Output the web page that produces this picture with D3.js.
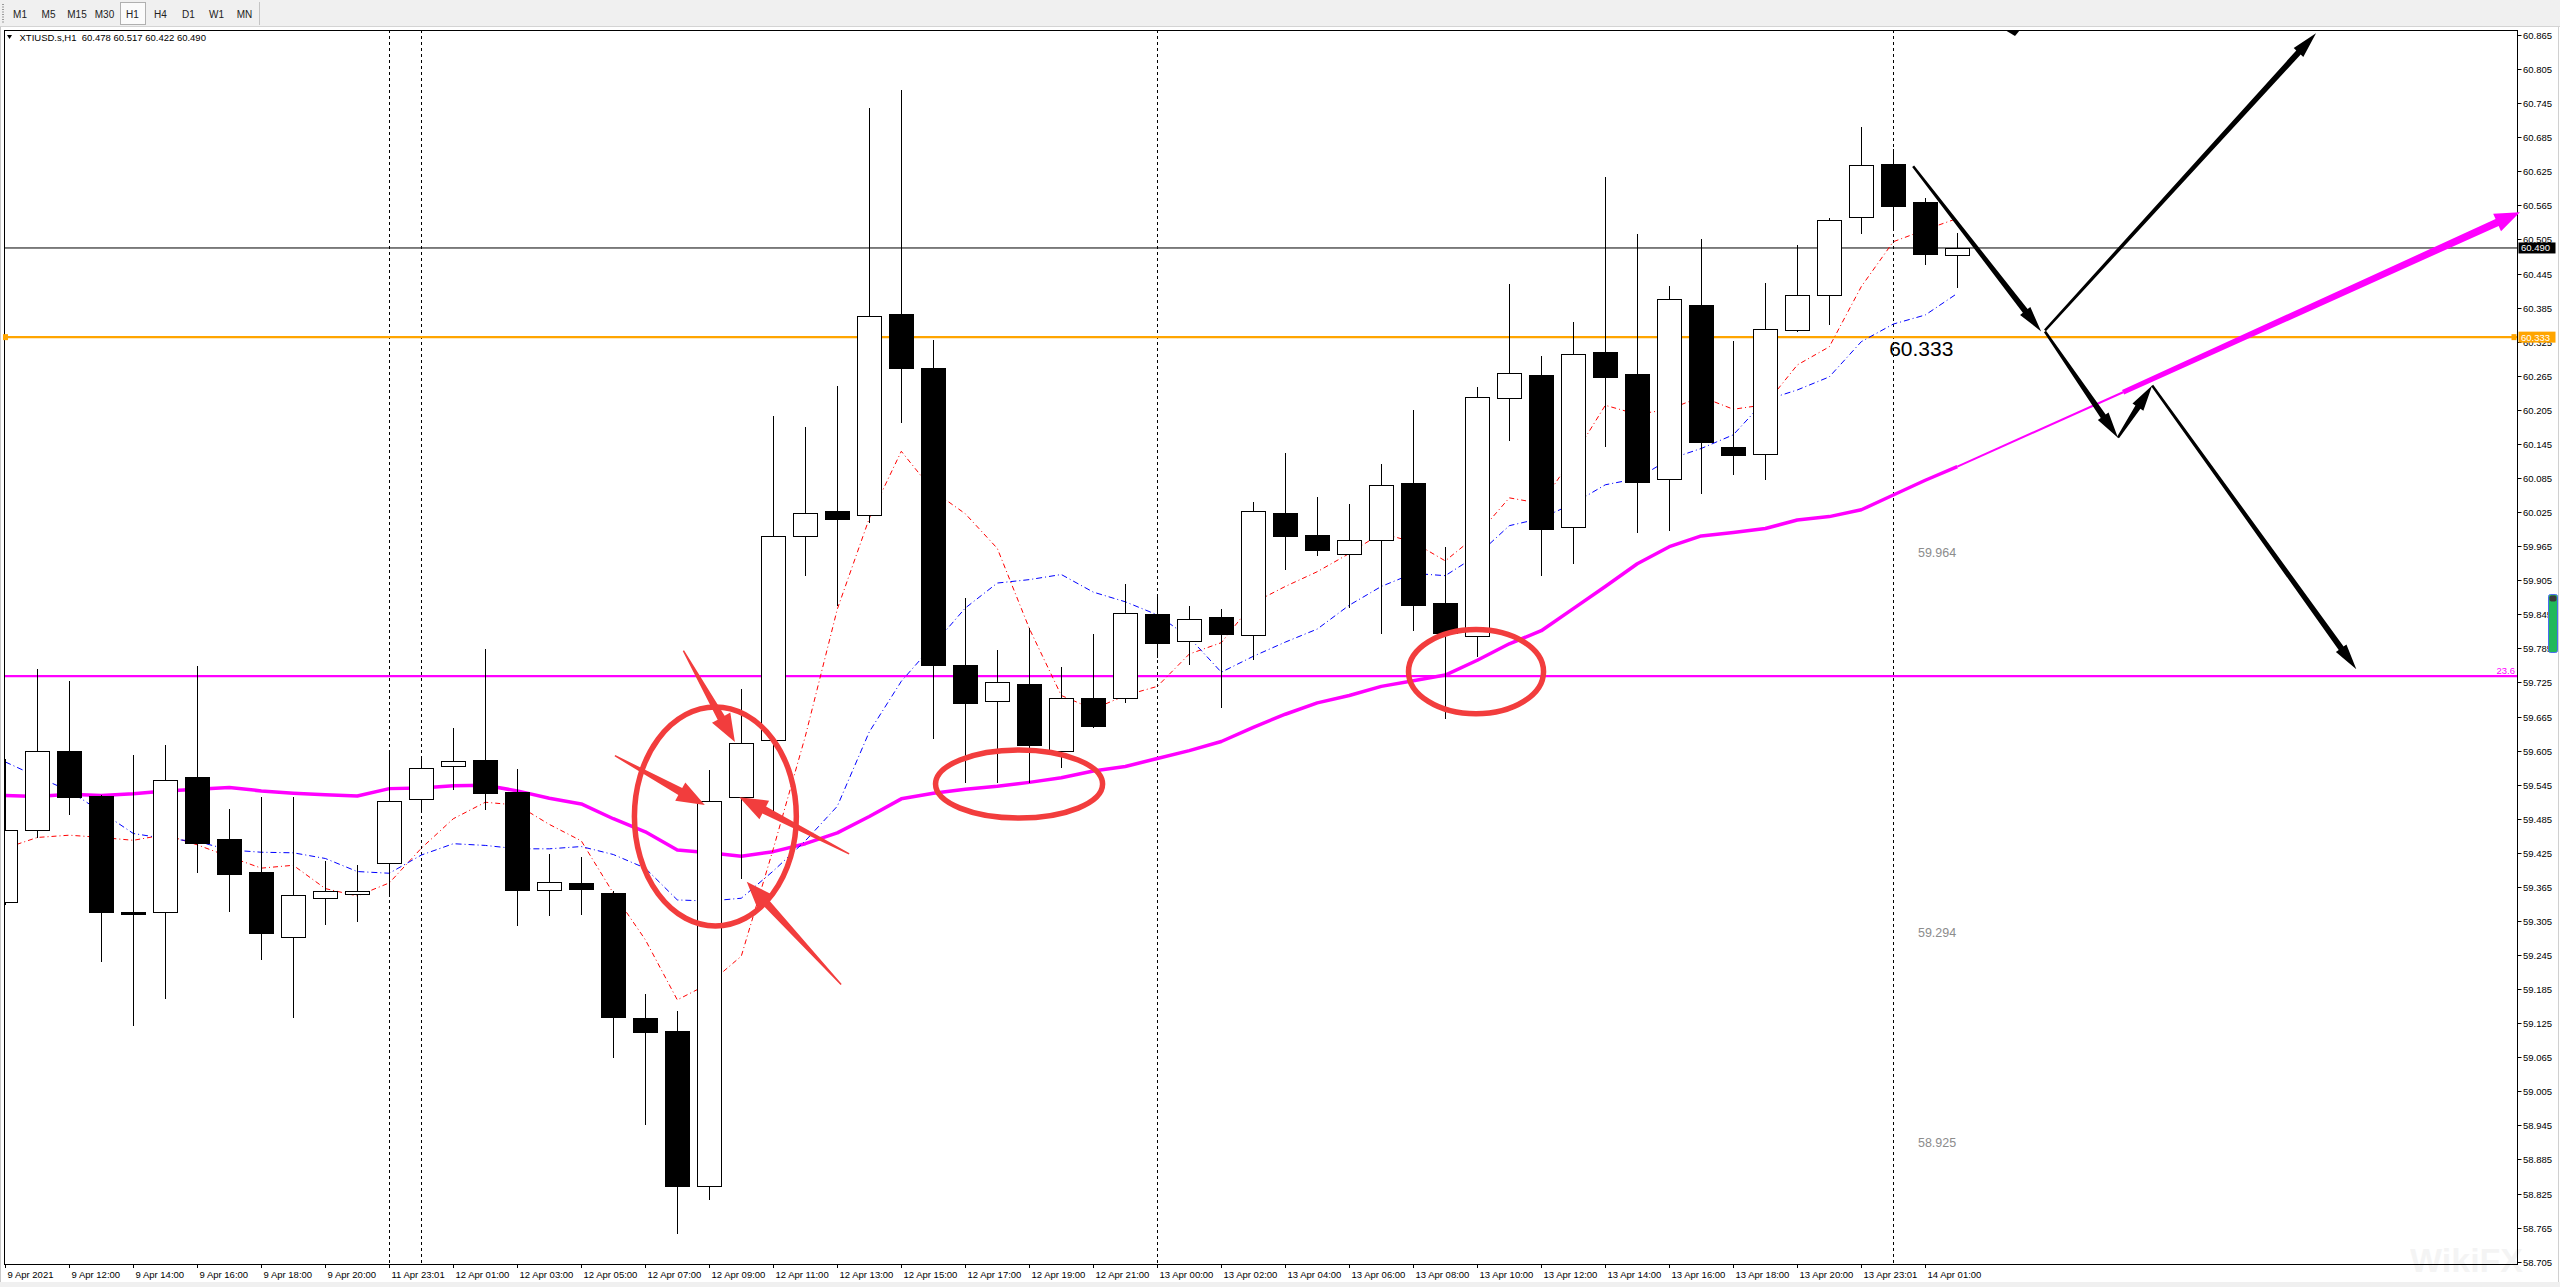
<!DOCTYPE html>
<html><head><meta charset="utf-8">
<script src="https://cdn.jsdelivr.net/npm/d3@7"></script>
<style>
body{margin:0;background:#fff;overflow:hidden}
svg{display:block}
text{font-family:"Liberation Sans",Arial,sans-serif}
</style></head>
<body><svg id="c" width="2560" height="1287"></svg>
<script>
// ---------------- DATA ----------------
const symbolHeader = "XTIUSD.s,H1  60.478 60.517 60.422 60.490";
const timeframes = ["M1","M5","M15","M30","H1","H4","D1","W1","MN"];
const opens  = [59.338,59.465,59.605,59.525,59.320,59.320,59.558,59.449,59.391,59.277,59.346,59.353,59.407,59.519,59.577,59.588,59.532,59.359,59.372,59.355,59.134,59.111,58.839,59.523,59.624,59.983,60.026,60.019,60.373,60.279,59.756,59.692,59.723,59.605,59.698,59.697,59.845,59.798,59.840,59.808,60.023,59.984,59.952,59.975,60.076,59.864,59.806,60.225,60.266,59.998,60.306,60.268,60.083,60.390,60.139,60.127,60.345,60.407,60.544,60.638,60.571,60.478];
const highs  = [59.590,59.749,59.727,59.527,59.597,59.615,59.754,59.502,59.523,59.524,59.411,59.403,59.606,59.595,59.645,59.784,59.573,59.423,59.417,59.358,59.177,59.147,59.570,59.713,60.195,60.175,60.247,60.736,60.768,60.328,59.874,59.782,59.820,59.753,59.811,59.898,59.880,59.859,59.855,60.043,60.129,60.051,60.039,60.109,60.205,59.963,60.245,60.427,60.300,60.360,60.615,60.515,60.423,60.506,60.326,60.428,60.496,60.542,60.703,60.664,60.578,60.517];
const lows   = [59.335,59.452,59.494,59.235,59.122,59.170,59.392,59.323,59.238,59.135,59.300,59.305,59.355,59.496,59.538,59.503,59.297,59.315,59.318,59.065,58.947,58.755,58.816,59.380,59.501,59.914,59.862,60.007,60.183,59.628,59.550,59.549,59.549,59.576,59.647,59.690,59.770,59.758,59.681,59.767,59.925,59.950,59.858,59.812,59.818,59.663,59.771,60.152,59.915,59.935,60.141,59.989,59.994,60.059,60.092,60.084,60.343,60.357,60.517,60.522,60.461,60.422];
const closes = [59.466,59.605,59.524,59.321,59.318,59.554,59.442,59.388,59.283,59.350,59.357,59.357,59.517,59.574,59.586,59.531,59.360,59.374,59.362,59.135,59.110,58.839,59.517,59.619,59.983,60.024,60.012,60.371,60.279,59.755,59.688,59.725,59.614,59.698,59.649,59.847,59.794,59.836,59.810,60.026,59.983,59.959,59.975,60.072,59.862,59.812,60.227,60.269,59.995,60.304,60.263,60.078,60.401,60.149,60.125,60.347,60.408,60.540,60.636,60.564,60.480,60.490];
// moving averages
const maSlow = [59.526,59.524,59.528,59.526,59.529,59.534,59.537,59.540,59.534,59.530,59.527,59.525,59.538,59.539,59.543,59.544,59.534,59.521,59.511,59.485,59.462,59.430,59.425,59.419,59.427,59.441,59.460,59.489,59.520,59.530,59.537,59.542,59.549,59.557,59.569,59.577,59.591,59.605,59.621,59.646,59.669,59.689,59.702,59.718,59.728,59.738,59.764,59.793,59.816,59.855,59.894,59.934,59.964,59.983,59.989,59.996,60.011,60.017,60.029,60.055,60.081,60.105];
const maFast = [59.433,59.452,59.456,59.452,59.447,59.457,59.439,59.418,59.398,59.403,59.362,59.349,59.372,59.433,59.485,59.514,59.509,59.475,59.446,59.354,59.272,59.166,59.195,59.243,59.432,59.630,59.854,60.014,60.132,60.062,60.022,59.961,59.820,59.702,59.678,59.702,59.718,59.775,59.795,59.865,59.894,59.920,59.952,59.988,59.972,59.939,59.985,60.050,60.040,60.122,60.213,60.197,60.206,60.228,60.206,60.214,60.284,60.316,60.422,60.501,60.522,60.542];
const maMid  = [59.585,59.559,59.534,59.497,59.459,59.450,59.445,59.430,59.426,59.425,59.415,59.392,59.389,59.421,59.441,59.438,59.432,59.432,59.436,59.422,59.398,59.342,59.340,59.345,59.393,59.446,59.507,59.638,59.727,59.791,59.856,59.900,59.906,59.915,59.884,59.867,59.844,59.804,59.743,59.771,59.796,59.819,59.861,59.894,59.917,59.913,59.949,60.001,60.014,60.040,60.073,60.084,60.118,60.137,60.161,60.222,60.240,60.263,60.325,60.356,60.372,60.410];
// axes
const priceTickLabels = ["60.865","60.805","60.745","60.685","60.625","60.565","60.505","60.445","60.385","60.325","60.265","60.205","60.145","60.085","60.025","59.965","59.905","59.845","59.785","59.725","59.665","59.605","59.545","59.485","59.425","59.365","59.305","59.245","59.185","59.125","59.065","59.005","58.945","58.885","58.825","58.765","58.705"];
const timeTickIndex = [0,2,4,6,8,10,12,14,16,18,20,22,24,26,28,30,32,34,36,38,40,42,44,46,48,50,52,54,56,58,60];
const timeTickLabels = ["9 Apr 2021","9 Apr 12:00","9 Apr 14:00","9 Apr 16:00","9 Apr 18:00","9 Apr 20:00","11 Apr 23:01","12 Apr 01:00","12 Apr 03:00","12 Apr 05:00","12 Apr 07:00","12 Apr 09:00","12 Apr 11:00","12 Apr 13:00","12 Apr 15:00","12 Apr 17:00","12 Apr 19:00","12 Apr 21:00","13 Apr 00:00","13 Apr 02:00","13 Apr 04:00","13 Apr 06:00","13 Apr 08:00","13 Apr 10:00","13 Apr 12:00","13 Apr 14:00","13 Apr 16:00","13 Apr 18:00","13 Apr 20:00","13 Apr 23:01","14 Apr 01:00"];
const separatorIndex = [12,13,36,59];
// levels
const bidPrice = 60.490;
const orangeLevel = 60.333;
const fibLevel = 59.736, fibLevelLabel = "23.6";
const fibTextPrices = [59.964, 59.294, 58.925];
const fibTextLabels = ["59.964","59.294","58.925"];
// annotations in (bar index, price)
const redEllipses = [[22.19,59.489,2.53,0.1928],[31.68,59.546,2.61,0.0599],[45.96,59.744,2.11,0.074]];
const redArrows = [[21.19,59.781,22.80,59.620],[19.05,59.596,21.86,59.509],[26.37,59.423,22.94,59.523],[26.12,59.193,23.17,59.374]];
const blackArrows = [[59.62,60.634,63.62,60.343],[63.74,60.345,72.21,60.868],[63.74,60.343,66.02,60.156],[66.02,60.156,67.09,60.248],[67.09,60.248,73.47,59.748]];
const magentaArrowThin = [61,60.105,66.18,60.236];
const magentaArrowThick = [66.18,60.236,78.58,60.553];
const levelText = "60.333", levelTextPos = [58.87, 60.333];

// ---------------- DRAW ----------------
const svg = d3.select('#c');
const P = {l:4, t:30, r:2517, b:1264};
const x = d3.scaleLinear().domain([0,61]).range([5.3, 5.3+32*61]);
const y = d3.scaleLinear().domain([58.705,60.865]).range([1261.7,35]);
const px = v => Math.round(v)+0.5;

svg.append('rect').attr('width',2560).attr('height',1287).attr('fill','#fff');
// toolbar
svg.append('rect').attr('x',0).attr('y',0).attr('width',2560).attr('height',26).attr('fill','#f0f0f0');
svg.append('line').attr('x1',0).attr('x2',2560).attr('y1',26.5).attr('y2',26.5).attr('stroke','#d4d4d4');
for(let k=0;k<8;k++) svg.append('rect').attr('x',2).attr('y',4+k*2.5).attr('width',2).attr('height',1).attr('fill','#9a9a9a');
const tfX = [20,48.5,77,104.5,132.5,160.5,188.5,216.5,244.5];
svg.append('rect').attr('x',120.5).attr('y',2.5).attr('width',25).attr('height',22).attr('fill','#fbfbfb').attr('stroke','#b0b0b0');
svg.append('line').attr('x1',259.5).attr('x2',259.5).attr('y1',2).attr('y2',25).attr('stroke','#c4c4c4');
svg.selectAll('text.tf').data(timeframes).join('text').attr('class','tf')
  .attr('x',(d,i)=>tfX[i]).attr('y',17.5).attr('text-anchor','middle')
  .attr('font-size',10).attr('fill','#222').text(d=>d);
// bottom strip and side strips
svg.append('rect').attr('x',0).attr('y',1282).attr('width',2560).attr('height',5).attr('fill','#f0f0f0');
svg.append('line').attr('x1',0.5).attr('x2',0.5).attr('y1',27).attr('y2',1282).attr('stroke','#c8c8c8');
svg.append('line').attr('x1',2558.5).attr('x2',2558.5).attr('y1',27).attr('y2',1282).attr('stroke','#d0d0d0');

// clip
svg.append('clipPath').attr('id','pc').append('rect')
  .attr('x',P.l+0.5).attr('y',P.t+0.5).attr('width',P.r-P.l-0.5).attr('height',P.b-P.t-0.5);
const g = svg.append('g').attr('clip-path','url(#pc)');

// separators
g.selectAll('line.sep').data(separatorIndex).join('line').attr('class','sep')
  .attr('x1',d=>px(x(d))).attr('x2',d=>px(x(d))).attr('y1',P.t).attr('y2',P.b)
  .attr('stroke','#000').attr('stroke-dasharray','3,3');

// horizontal levels
const hline = (p,c,w)=>g.append('line').attr('x1',P.l).attr('x2',P.r)
  .attr('y1',y(p)).attr('y2',y(p)).attr('stroke',c).attr('stroke-width',w);
hline(fibLevel,'#ff00ff',2.2);
hline(orangeLevel,'#ffa500',2.4);
hline(bidPrice,'#000',1);

// moving averages
const lineGen = d3.line().x((d,i)=>x(i)).y(d=>y(d));
g.append('path').datum(maSlow).attr('d',lineGen).attr('fill','none').attr('stroke','#ff00ff').attr('stroke-width',3.5).attr('stroke-linejoin','round');
g.append('path').datum(maFast).attr('d',lineGen).attr('fill','none').attr('stroke','#ff0000').attr('stroke-width',1).attr('stroke-dasharray','5,3,1,3');
g.append('path').datum(maMid).attr('d',lineGen).attr('fill','none').attr('stroke','#0000ff').attr('stroke-width',1).attr('stroke-dasharray','6,3,1,3');

// candles
const idx = d3.range(opens.length);
const cg = g.append('g');
idx.forEach(i=>{
  const cx = Math.round(x(i))+0.5;
  const o=opens[i], c=closes[i], h=highs[i], l=lows[i];
  const bull = c>=o;
  cg.append('line').attr('x1',cx).attr('x2',cx).attr('y1',Math.round(y(h))).attr('y2',Math.round(y(l))+1).attr('stroke','#000');
  const top = Math.round(y(Math.max(o,c)))+0.5, bot = Math.round(y(Math.min(o,c)))+0.5;
  cg.append('rect').attr('x',cx-12).attr('y',top).attr('width',24).attr('height',Math.max(1,bot-top))
    .attr('fill',bull?'#fff':'#000').attr('stroke','#000').attr('stroke-width',1);
});

// frame
svg.append('rect').attr('x',P.l+0.5).attr('y',P.t+0.5).attr('width',P.r-P.l).attr('height',P.b-P.t)
  .attr('fill','none').attr('stroke','#000');

// header
svg.append('path').attr('d','M7,35 L12,35 L9.5,39 Z').attr('fill','#000');
svg.append('text').attr('x',19.5).attr('y',40.5).attr('font-size',9.5).attr('fill','#000').attr('xml:space','preserve').text(symbolHeader);

// price axis
const pa = svg.append('g');
priceTickLabels.forEach(t=>{
  const yy = Math.round(y(+t))+0.5;
  pa.append('line').attr('x1',P.r+0.5).attr('x2',P.r+4.5).attr('y1',yy).attr('y2',yy).attr('stroke','#000');
  pa.append('text').attr('x',P.r+6).attr('y',yy+3.4).attr('font-size',9.5).attr('fill','#000').text(t);
});
// time axis
const ta = svg.append('g');
timeTickIndex.forEach((ti,k)=>{
  const xx = Math.round(x(ti))+0.5;
  ta.append('line').attr('x1',xx).attr('x2',xx).attr('y1',P.b).attr('y2',P.b+4).attr('stroke','#000');
  ta.append('text').attr('x',xx+2).attr('y',1277.5).attr('font-size',9.5).attr('fill','#000').text(timeTickLabels[k]);
});

// axis boxes
const box = (p,c,t)=>{
  const yy=y(p);
  svg.append('rect').attr('x',P.r+1.5).attr('y',yy-5.5).attr('width',37).attr('height',11).attr('fill',c);
  svg.append('text').attr('x',P.r+4).attr('y',yy+3.5).attr('font-size',9.5).attr('fill','#fff').text(t);
};
box(bidPrice,'#000','60.490');
box(orangeLevel,'#ffa500','60.333');
svg.append('rect').attr('x',P.r-5.5).attr('y',y(orangeLevel)-3).attr('width',5).attr('height',6).attr('fill','#ffa500');
svg.append('rect').attr('x',3).attr('y',y(orangeLevel)-3).attr('width',5).attr('height',6).attr('fill','#ffa500');
svg.append('text').attr('x',P.r-2).attr('y',y(fibLevel)-2.5).attr('text-anchor','end').attr('font-size',9.5).attr('fill','#ff00ff').text(fibLevelLabel);

// scrollbar widget
svg.append('rect').attr('x',2548.5).attr('y',594.5).attr('width',9).attr('height',58).attr('rx',2).attr('fill','#20b95a').attr('stroke','#4b6ef0');
svg.append('rect').attr('x',2549.5).attr('y',595.5).attr('width',7).attr('height',6).attr('rx',2).attr('fill','#3a3a3a');

// fib texts
svg.selectAll('text.fib').data(fibTextPrices).join('text').attr('class','fib')
  .attr('x',x(59.77)).attr('y',d=>y(d)+10).attr('font-size',12.5).attr('fill','#8c8c8c').text((d,i)=>fibTextLabels[i]);
svg.append('text').attr('x',x(levelTextPos[0])).attr('y',y(levelTextPos[1])+19).attr('font-size',21).attr('fill','#000').text(levelText);

// annotations
function taper(a,w0,w1,hl,hw,color){
  const x1=x(a[0]),y1=y(a[1]),x2=x(a[2]),y2=y(a[3]);
  const dx=x2-x1,dy=y2-y1,L=Math.hypot(dx,dy),ux=dx/L,uy=dy/L,nx=-uy,ny=ux;
  const kx=x2-ux*hl, ky=y2-uy*hl;
  const pts=[[x1+nx*w0/2,y1+ny*w0/2],[kx+nx*w1/2,ky+ny*w1/2],[kx+nx*hw/2,ky+ny*hw/2],[x2,y2],
             [kx-nx*hw/2,ky-ny*hw/2],[kx-nx*w1/2,ky-ny*w1/2],[x1-nx*w0/2,y1-ny*w0/2]];
  svg.append('polygon').attr('points',pts.map(p=>p.join(',')).join(' ')).attr('fill',color);
}
// magenta arrow
svg.append('line').attr('x1',x(magentaArrowThin[0])).attr('y1',y(magentaArrowThin[1]))
  .attr('x2',x(magentaArrowThin[2])).attr('y2',y(magentaArrowThin[3])).attr('stroke','#ff00ff').attr('stroke-width',2);
taper(magentaArrowThick,5,7.5,25,19,'#ff00ff');
// black arrows
blackArrows.forEach(a=>taper(a,2.5,6,26,13,'#000'));
svg.append('path').attr('d','M2005,30 L2020,30 L2015,36 Z').attr('fill','#000');
// red ellipses
svg.selectAll('ellipse.red').data(redEllipses).join('ellipse').attr('class','red')
  .attr('cx',d=>x(d[0])).attr('cy',d=>y(d[1]))
  .attr('rx',d=>x(d[0]+d[2])-x(d[0])).attr('ry',d=>y(d[1]-d[3])-y(d[1]))
  .attr('fill','none').attr('stroke','#f23d3d').attr('stroke-width',5.5);
redArrows.forEach(a=>taper(a,1.5,8,28,21,'#f23d3d'));

// watermark
svg.append('text').attr('x',2410).attr('y',1272).attr('font-size',34).attr('font-weight','bold')
  .attr('fill','#000').attr('opacity',0.04).text('WikiFX');
</script></body></html>
